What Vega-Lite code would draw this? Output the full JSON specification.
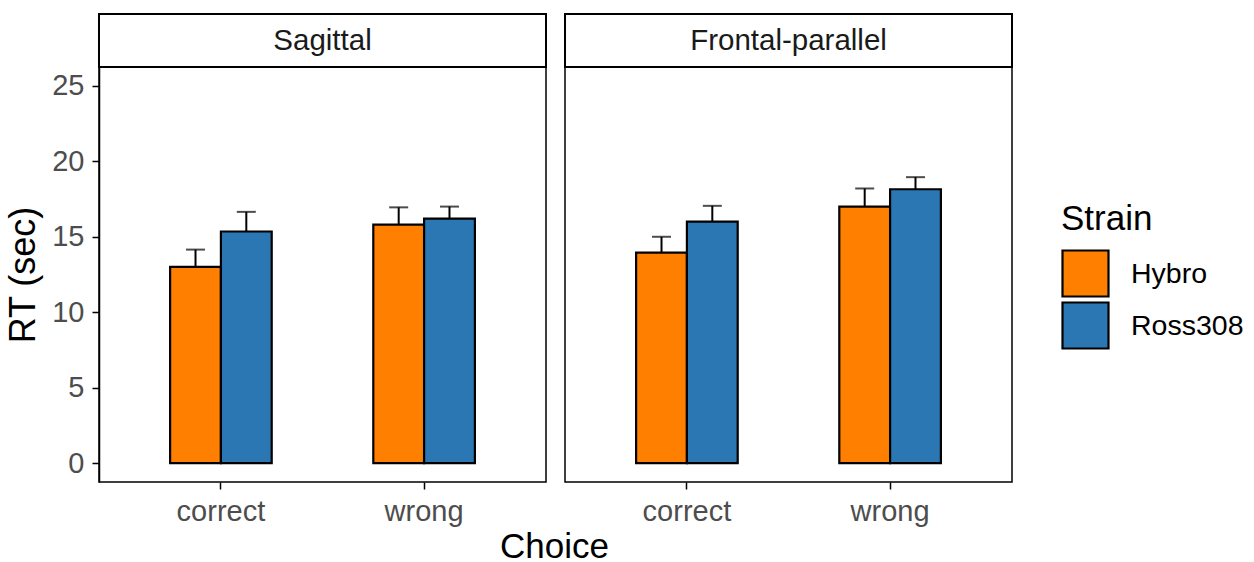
{
  "$schema": "https://vega.github.io/schema/vega-lite/v6.json",
  "padding": {"left": 4, "top": 13, "right": 5, "bottom": 0},
  "background": "white",
  "datasets": {
    "panels": [
      {"panel": "Sagittal"},
      {"panel": "Frontal-parallel"}
    ],
    "rt": [
      {"panel": "Sagittal", "Choice": "correct", "Strain": "Hybro", "RT": 13.0, "upper": 14.15},
      {"panel": "Sagittal", "Choice": "correct", "Strain": "Ross308", "RT": 15.35, "upper": 16.65},
      {"panel": "Sagittal", "Choice": "wrong", "Strain": "Hybro", "RT": 15.8, "upper": 16.95},
      {"panel": "Sagittal", "Choice": "wrong", "Strain": "Ross308", "RT": 16.2, "upper": 17.0},
      {"panel": "Frontal-parallel", "Choice": "correct", "Strain": "Hybro", "RT": 13.95, "upper": 15.0},
      {"panel": "Frontal-parallel", "Choice": "correct", "Strain": "Ross308", "RT": 16.0, "upper": 17.05},
      {"panel": "Frontal-parallel", "Choice": "wrong", "Strain": "Hybro", "RT": 17.0, "upper": 18.2},
      {"panel": "Frontal-parallel", "Choice": "wrong", "Strain": "Ross308", "RT": 18.15, "upper": 18.95}
    ]
  },
  "config": {
    "font": "Liberation Sans",
    "view": {"stroke": "black", "strokeWidth": 1.5},
    "axis": {
      "grid": false,
      "domainColor": "black",
      "domainWidth": 1.5,
      "tickColor": "black",
      "tickWidth": 1.5,
      "tickSize": 7,
      "labelFontSize": 29,
      "labelColor": "#4D4D4D",
      "titleFontSize": 36,
      "titleFontWeight": "normal",
      "titleColor": "black"
    }
  },
  "title": {
    "text": "Choice",
    "orient": "bottom",
    "anchor": "middle",
    "fontSize": 35,
    "fontWeight": "normal",
    "color": "black",
    "offset": 3,
    "dx": -70
  },
  "columns": 2,
  "align": "each",
  "bounds": "flush",
  "spacing": {"row": 0, "column": 19},
  "concat": [
    {
      "width": 447,
      "height": 53,
      "view": {"stroke": "black", "strokeWidth": 2},
      "data": {"name": "panels"},
      "transform": [{"filter": "datum.panel === 'Sagittal'"}],
      "mark": {"type": "text", "fontSize": 29.5, "color": "#1A1A1A", "baseline": "middle", "align": "center"},
      "encoding": {"text": {"field": "panel"}}
    },
    {
      "width": 447,
      "height": 53,
      "view": {"stroke": "black", "strokeWidth": 2},
      "data": {"name": "panels"},
      "transform": [{"filter": "datum.panel === 'Frontal-parallel'"}],
      "mark": {"type": "text", "fontSize": 29.5, "color": "#1A1A1A", "baseline": "middle", "align": "center"},
      "encoding": {"text": {"field": "panel"}}
    },
    {
      "width": 447,
      "height": 415,
      "data": {"name": "rt"},
      "transform": [{"filter": "datum.panel === 'Sagittal'"}],
      "encoding": {
        "x": {
          "field": "Choice", "type": "nominal", "sort": ["correct", "wrong"],
          "scale": {"type": "band", "paddingInner": 0.5, "paddingOuter": 0.35},
          "axis": {"title": null, "labelAngle": 0, "labelPadding": 8, "domain": false}
        },
        "xOffset": {"field": "Strain", "type": "nominal", "sort": ["Hybro", "Ross308"]},
        "y": {
          "field": "RT", "type": "quantitative",
          "scale": {"domain": [-1.25, 26.25], "nice": false, "zero": false},
          "axis": {"title": "RT (sec)", "values": [0, 5, 10, 15, 20, 25], "labelPadding": 8, "titlePadding": 9}
        }
      },
      "layer": [
        {
          "mark": {"type": "rule", "color": "black", "strokeWidth": 2},
          "encoding": {"y2": {"field": "upper"}}
        },
        {
          "mark": {"type": "tick", "color": "black", "thickness": 2, "size": 19},
          "encoding": {
            "y": {"field": "upper", "type": "quantitative", "axis": {"title": "RT (sec)", "values": [0, 5, 10, 15, 20, 25], "labelPadding": 8, "titlePadding": 9}}
          }
        },
        {
          "mark": {"type": "bar", "stroke": "black", "strokeWidth": 2.2},
          "encoding": {
            "y2": {"datum": 0},
            "color": {
              "field": "Strain", "type": "nominal",
              "scale": {"domain": ["Hybro", "Ross308"], "range": ["#FF7F00", "#2B77B4"]},
              "legend": {
                "title": "Strain",
                "orient": "none",
                "legendX": 962,
                "legendY": 188,
                "symbolType": "square",
                "symbolSize": 2116,
                "symbolStrokeColor": "black",
                "symbolStrokeWidth": 2.2,
                "symbolOpacity": 1,
                "labelFontSize": 28.5,
                "labelColor": "black",
                "labelOffset": 21,
                "titleFontSize": 35,
                "titleFontWeight": "normal",
                "titleColor": "black",
                "titlePadding": 12,
                "rowPadding": -4
              }
            }
          }
        }
      ]
    },
    {
      "width": 447,
      "height": 415,
      "data": {"name": "rt"},
      "transform": [{"filter": "datum.panel === 'Frontal-parallel'"}],
      "encoding": {
        "x": {
          "field": "Choice", "type": "nominal", "sort": ["correct", "wrong"],
          "scale": {"type": "band", "paddingInner": 0.5, "paddingOuter": 0.35},
          "axis": {"title": null, "labelAngle": 0, "labelPadding": 8, "domain": false}
        },
        "xOffset": {"field": "Strain", "type": "nominal", "sort": ["Hybro", "Ross308"]},
        "y": {
          "field": "RT", "type": "quantitative",
          "scale": {"domain": [-1.25, 26.25], "nice": false, "zero": false},
          "axis": null
        }
      },
      "layer": [
        {
          "mark": {"type": "rule", "color": "black", "strokeWidth": 2},
          "encoding": {"y2": {"field": "upper"}}
        },
        {
          "mark": {"type": "tick", "color": "black", "thickness": 2, "size": 19},
          "encoding": {
            "y": {"field": "upper", "type": "quantitative", "axis": null}
          }
        },
        {
          "mark": {"type": "bar", "stroke": "black", "strokeWidth": 2.2},
          "encoding": {
            "y2": {"datum": 0},
            "color": {
              "field": "Strain", "type": "nominal",
              "scale": {"domain": ["Hybro", "Ross308"], "range": ["#FF7F00", "#2B77B4"]}
            }
          }
        }
      ]
    }
  ]
}
